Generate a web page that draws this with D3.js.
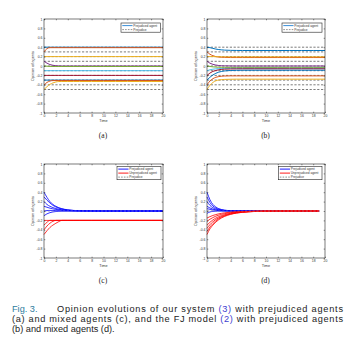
<!DOCTYPE html>
<html><head><meta charset="utf-8">
<script src="https://cdn.jsdelivr.net/npm/d3@7"></script>
<style>body{margin:0;background:#fff}svg{display:block}</style>
</head><body>
<svg id="c" width="356" height="347"></svg>
<script>
// ---------- DATA ----------
const T  = [0,0.5,1,1.5,2,2.5,3,4,5,6,8,10,12,14,16,18,20];
const Td = [0,0.5,1,1.5,2,2.5,3,4,5,6,8,10,12,14,16,18,19];
const xTicks = [0,2,4,6,8,10,12,14,16,18,20];
const yTicks = [-1,-0.8,-0.6,-0.4,-0.2,0,0.2,0.4,0.6,0.8,1];
const yTickLabels = ["-1","-0.8","-0.6","-0.4","-0.2","0","0.2","0.4","0.6","0.8","1"];
const prejudices = [0.4,0.3,0.2,0.1,0,-0.1,-0.2,-0.3,-0.4,-0.5];

// (a) our system, prejudiced agents
const a1 = [0.4,0.4,0.4,0.4,0.4,0.4,0.4,0.4,0.4,0.4,0.4,0.4,0.4,0.4,0.4,0.4,0.4];
const a2 = [0.3,0.37,0.39,0.39,0.39,0.39,0.39,0.39,0.39,0.39,0.39,0.39,0.39,0.39,0.39,0.39,0.39];
const a3 = [0.2,0.2,0.2,0.2,0.2,0.2,0.2,0.2,0.2,0.2,0.2,0.2,0.2,0.2,0.2,0.2,0.2];
const a4 = [0.1,0.06,0.03,0.015,0.005,0.002,0,0,0,0,0,0,0,0,0,0,0];
const a5 = [0,-0.005,-0.008,-0.01,-0.01,-0.01,-0.01,-0.01,-0.01,-0.01,-0.01,-0.01,-0.01,-0.01,-0.01,-0.01,-0.01];
const a6 = [-0.1,-0.1,-0.1,-0.1,-0.1,-0.1,-0.1,-0.1,-0.1,-0.1,-0.1,-0.1,-0.1,-0.1,-0.1,-0.1,-0.1];
const a7 = [-0.2,-0.2,-0.2,-0.2,-0.2,-0.2,-0.2,-0.2,-0.2,-0.2,-0.2,-0.2,-0.2,-0.2,-0.2,-0.2,-0.2];
const a8 = [-0.3,-0.3,-0.3,-0.3,-0.3,-0.3,-0.3,-0.3,-0.3,-0.3,-0.3,-0.3,-0.3,-0.3,-0.3,-0.3,-0.3];
const a9 = [-0.4,-0.35,-0.32,-0.31,-0.31,-0.31,-0.31,-0.31,-0.31,-0.31,-0.31,-0.31,-0.31,-0.31,-0.31,-0.31,-0.31];
const a10= [-0.5,-0.44,-0.39,-0.36,-0.34,-0.33,-0.33,-0.33,-0.33,-0.33,-0.33,-0.33,-0.33,-0.33,-0.33,-0.33,-0.33];

// (b) FJ model, prejudiced agents
const b1 = [0.4,0.39,0.375,0.36,0.35,0.343,0.338,0.333,0.331,0.33,0.33,0.33,0.33,0.33,0.33,0.33,0.33];
const b2 = [0.3,0.25,0.22,0.2,0.19,0.185,0.183,0.18,0.18,0.18,0.18,0.18,0.18,0.18,0.18,0.18,0.18];
const b3 = [0.2,0.2,0.2,0.198,0.197,0.196,0.195,0.195,0.195,0.195,0.195,0.195,0.195,0.195,0.195,0.195,0.195];
const b4 = [0.1,0.06,0.035,0.02,0.01,0.005,0.003,0.001,0,0,0,0,0,0,0,0,0];
const b5 = [0,-0.01,-0.018,-0.023,-0.026,-0.028,-0.029,-0.03,-0.03,-0.03,-0.03,-0.03,-0.03,-0.03,-0.03,-0.03,-0.03];
const b6 = [-0.1,-0.08,-0.068,-0.06,-0.056,-0.053,-0.052,-0.05,-0.05,-0.05,-0.05,-0.05,-0.05,-0.05,-0.05,-0.05,-0.05];
const b7 = [-0.2,-0.15,-0.115,-0.095,-0.08,-0.072,-0.067,-0.063,-0.061,-0.06,-0.06,-0.06,-0.06,-0.06,-0.06,-0.06,-0.06];
const b8 = [-0.3,-0.24,-0.19,-0.155,-0.13,-0.115,-0.105,-0.095,-0.092,-0.09,-0.09,-0.09,-0.09,-0.09,-0.09,-0.09,-0.09];
const b9 = [-0.4,-0.32,-0.27,-0.24,-0.225,-0.217,-0.213,-0.21,-0.21,-0.21,-0.21,-0.21,-0.21,-0.21,-0.21,-0.21,-0.21];
const b10= [-0.5,-0.41,-0.35,-0.315,-0.298,-0.29,-0.285,-0.282,-0.28,-0.28,-0.28,-0.28,-0.28,-0.28,-0.28,-0.28,-0.28];

// (c) our system, mixed agents
const cB1 = [0.4,0.29,0.2,0.14,0.1,0.07,0.05,0.025,0.012,0.006,0.002,0,0,0,0,0,0];
const cB2 = [0.3,0.23,0.17,0.12,0.085,0.06,0.043,0.021,0.01,0.005,0.001,0,0,0,0,0,0];
const cB3 = [0.2,0.14,0.1,0.072,0.052,0.037,0.026,0.013,0.006,0.003,0.001,0,0,0,0,0,0];
const cB4 = [0.1,0.08,0.06,0.045,0.033,0.024,0.017,0.009,0.004,0.002,0.001,0,0,0,0,0,0];
const cB5 = [0,0.01,0.012,0.011,0.009,0.007,0.005,0.003,0.001,0,0,0,0,0,0,0,0];
const cB6 = [-0.1,-0.06,-0.035,-0.02,-0.011,-0.006,-0.003,-0.001,0,0,0,0,0,0,0,0,0];
const cR1 = [-0.2,-0.2,-0.2,-0.2,-0.2,-0.2,-0.2,-0.2,-0.2,-0.2,-0.2,-0.2,-0.2,-0.2,-0.2,-0.2,-0.2];
const cR2 = [-0.3,-0.24,-0.2,-0.2,-0.2,-0.2,-0.2,-0.2,-0.2,-0.2,-0.2,-0.2,-0.2,-0.2,-0.2,-0.2,-0.2];
const cR3 = [-0.4,-0.32,-0.26,-0.22,-0.2,-0.2,-0.2,-0.2,-0.2,-0.2,-0.2,-0.2,-0.2,-0.2,-0.2,-0.2,-0.2];
const cR4 = [-0.5,-0.42,-0.35,-0.3,-0.26,-0.225,-0.2,-0.2,-0.2,-0.2,-0.2,-0.2,-0.2,-0.2,-0.2,-0.2,-0.2];
const cPrej = [0,0,0,0,0,0,0,0,0,0,0,0,0,0,0,0,0];

// (d) FJ model, mixed agents
const dB1 = [0.4,0.24,0.14,0.085,0.05,0.03,0.018,0.007,0.003,0.001,0,0,0,0,0,0,0];
const dB2 = [0.3,0.18,0.105,0.063,0.037,0.022,0.013,0.005,0.002,0.001,0,0,0,0,0,0,0];
const dB3 = [0.2,0.12,0.07,0.042,0.025,0.015,0.009,0.003,0.001,0,0,0,0,0,0,0,0];
const dB4 = [0.1,0.065,0.04,0.024,0.014,0.008,0.005,0.002,0.001,0,0,0,0,0,0,0,0];
const dB5 = [0.05,0.035,0.022,0.014,0.008,0.005,0.003,0.001,0,0,0,0,0,0,0,0,0];
const dB6 = [-0.05,-0.02,-0.008,-0.003,-0.001,0,0,0,0,0,0,0,0,0,0,0,0];
const dR1 = [-0.15,-0.12,-0.095,-0.076,-0.06,-0.048,-0.038,-0.024,-0.015,-0.01,-0.004,-0.002,-0.001,0,0,0,0];
const dR2 = [-0.22,-0.175,-0.14,-0.11,-0.088,-0.07,-0.056,-0.035,-0.022,-0.014,-0.006,-0.002,-0.001,0,0,0,0];
const dR3 = [-0.3,-0.24,-0.19,-0.15,-0.12,-0.096,-0.077,-0.048,-0.03,-0.019,-0.008,-0.003,-0.001,0,0,0,0];
const dR4 = [-0.37,-0.29,-0.23,-0.18,-0.145,-0.115,-0.092,-0.058,-0.036,-0.023,-0.009,-0.004,-0.001,0,0,0,0];
const dR5 = [-0.44,-0.34,-0.27,-0.21,-0.165,-0.13,-0.104,-0.065,-0.041,-0.026,-0.01,-0.004,-0.001,0,0,0,0];
const dR6 = [-0.5,-0.38,-0.3,-0.235,-0.185,-0.145,-0.115,-0.072,-0.045,-0.028,-0.011,-0.004,-0.002,0,0,0,0];
const dPrej = [0,0,0,0,0,0,0,0,0,0,0,0,0,0,0,0,0];

const matlab = ["#0072BD","#D95319","#EDB120","#7E2F8E","#77AC30","#4DBEEE","#A2142F"];

// ---------- DRAW ----------
const svg = d3.select("#c");
const FONT = "Liberation Sans, Arial, sans-serif";

function panel(box, series, dashed, legend, label) {
  const x = d3.scaleLinear().domain([0,20]).range([box.x0, box.x1]);
  const y = d3.scaleLinear().domain([-1,1]).range([box.y1, box.y0]);
  const g = svg.append("g");
  g.append("rect").attr("x",box.x0).attr("y",box.y0)
    .attr("width",box.x1-box.x0).attr("height",box.y1-box.y0).attr("fill","#fff");
  const line = d3.line().x(d=>x(d[0])).y(d=>y(d[1])).curve(d3.curveMonotoneX);
  // dashed (prejudice) lines beneath
  dashed.forEach(d => {
    g.append("path").attr("d", line(d.t.map((t,i)=>[t,d.v[i]])))
      .attr("fill","none").attr("stroke",d.color).attr("stroke-width",d.w)
      .attr("stroke-dasharray","2.2,1.6");
  });
  series.forEach(s => {
    g.append("path").attr("d", line(s.t.map((t,i)=>[t,s.v[i]])))
      .attr("fill","none").attr("stroke",s.color).attr("stroke-width",s.w);
  });
  (dashed.filter(d=>d.top)).forEach(d => {
    g.append("path").attr("d", line(d.t.map((t,i)=>[t,d.v[i]])))
      .attr("fill","none").attr("stroke",d.color).attr("stroke-width",d.w)
      .attr("stroke-dasharray","2.2,1.6");
  });
  // axes
  const fmt = v => yTickLabels[yTicks.indexOf(v)];
  const axL = g.append("g").attr("transform",`translate(${box.x0},0)`)
    .call(d3.axisLeft(y).tickValues(yTicks).tickFormat(fmt).tickSize(-1.3).tickPadding(1.6));
  const axR = g.append("g").attr("transform",`translate(${box.x1},0)`)
    .call(d3.axisRight(y).tickValues(yTicks).tickFormat("").tickSize(-1.3));
  const axB = g.append("g").attr("transform",`translate(0,${box.y1})`)
    .call(d3.axisBottom(x).tickValues(xTicks).tickFormat(d3.format("d")).tickSize(-1.3).tickPadding(1.8));
  const axT = g.append("g").attr("transform",`translate(0,${box.y0})`)
    .call(d3.axisTop(x).tickValues(xTicks).tickFormat("").tickSize(-1.3));
  [axL,axR,axB,axT].forEach(a => {
    a.select(".domain").remove();
    a.selectAll("line").attr("stroke","#222").attr("stroke-width",0.5);
    a.selectAll("text").attr("font-family",FONT).attr("font-size","3.4px").attr("fill","#333");
  });
  g.append("rect").attr("x",box.x0).attr("y",box.y0)
    .attr("width",box.x1-box.x0).attr("height",box.y1-box.y0)
    .attr("fill","none").attr("stroke","#222").attr("stroke-width",0.6);
  // axis titles
  g.append("text").attr("x",(box.x0+box.x1)/2).attr("y",box.y1+9.3)
    .attr("text-anchor","middle").attr("font-family",FONT).attr("font-size","3.8px").attr("fill","#333").text("Time");
  g.append("text").attr("transform",`translate(${box.x0-10},${(box.y0+box.y1)/2}) rotate(-90)`)
    .attr("text-anchor","middle").attr("font-family",FONT).attr("font-size","3.8px").attr("fill","#333").text("Opinion of agents");
  // legend
  const L = legend;
  g.append("rect").attr("x",L.x).attr("y",L.y).attr("width",L.w).attr("height",L.items.length*4+1.2)
    .attr("fill","#fff").attr("stroke","#222").attr("stroke-width",0.6);
  L.items.forEach((it,i) => {
    const yy = L.y + 2.6 + i*4;
    g.append("line").attr("x1",L.x+1.3).attr("x2",L.x+11.5).attr("y1",yy).attr("y2",yy)
      .attr("stroke",it.color).attr("stroke-width",it.w)
      .attr("stroke-dasharray", it.dash ? "1.6,1.2" : null);
    g.append("text").attr("x",L.x+12.3).attr("y",yy+1.1)
      .attr("font-family",FONT).attr("font-size","3.2px").attr("fill","#333").text(it.text);
  });
  // panel label
  svg.append("text").attr("x",(box.x0+box.x1)/2 - 0.5).attr("y",label.y)
    .attr("text-anchor","middle").attr("font-family","Liberation Serif, Times New Roman, serif")
    .attr("font-size","7.5px").attr("fill","#222").text(label.text);
}

const aData = [a1,a2,a3,a4,a5,a6,a7,a8,a9,a10];
const bData = [b1,b2,b3,b4,b5,b6,b7,b8,b9,b10];
const prejLines = prejudices.map(p => ({t:[0,20], v:[p,p], color:"#444", w:0.7}));

panel({x0:44,x1:163,y0:19,y1:113},
  aData.map((v,i)=>({t:T, v, color:matlab[i%7], w:1})),
  prejLines,
  {x:121,y:23,w:39.5,items:[{text:"Prejudiced agent",color:"#3A8FD9",w:1},{text:"Prejudice",color:"#444",w:0.6,dash:true}]},
  {text:"(a)", y:137.5});

panel({x0:207,x1:325,y0:19,y1:113},
  bData.map((v,i)=>({t:T, v, color:matlab[i%7], w:1})),
  prejLines,
  {x:282,y:23,w:40,items:[{text:"Prejudiced agent",color:"#3A8FD9",w:1},{text:"Prejudice",color:"#444",w:0.6,dash:true}]},
  {text:"(b)", y:137.5});

panel({x0:44,x1:163,y0:164,y1:258},
  [cB1,cB2,cB3,cB4,cB5,cB6].map(v=>({t:T,v,color:"#0000FF",w:0.8}))
    .concat([cR1,cR2,cR3,cR4].map(v=>({t:T,v,color:"#FF0000",w:0.8}))),
  [{t:T, v:cPrej, color:"#9999DD", w:0.6, top:true}],
  {x:117,y:166.5,w:44,items:[{text:"Prejudiced agent",color:"#0000FF",w:0.9},{text:"Unprejudiced agent",color:"#FF0000",w:0.9},{text:"Prejudice",color:"#444",w:0.6,dash:true}]},
  {text:"(c)", y:283});

panel({x0:207,x1:325,y0:164,y1:258},
  [dB1,dB2,dB3,dB4,dB5,dB6].map(v=>({t:Td,v,color:"#0000FF",w:0.8}))
    .concat([dR1,dR2,dR3,dR4,dR5,dR6].map(v=>({t:Td,v,color:"#FF0000",w:0.8}))),
  [{t:Td, v:dPrej, color:"#9999AA", w:0.6, top:true}],
  {x:278.5,y:166.5,w:43.5,items:[{text:"Prejudiced agent",color:"#0000FF",w:0.9},{text:"Unprejudiced agent",color:"#FF0000",w:0.9},{text:"Prejudice",color:"#444",w:0.6,dash:true}]},
  {text:"(d)", y:283});

// ---------- CAPTION ----------
const cap = svg.append("g").attr("font-family",FONT).attr("font-size","9.2px").attr("fill","#222");
const t1 = cap.append("text").attr("x",12).attr("y",312);
t1.append("tspan").attr("fill","#2E7C9E").text("Fig. 3.");
cap.append("text").attr("x",57).attr("y",312).attr("textLength",286).attr("lengthAdjust","spacing")
  .html('Opinion evolutions of our system <tspan fill="#4040D0">(3)</tspan> with prejudiced agents');
cap.append("text").attr("x",12).attr("y",322).attr("textLength",331).attr("lengthAdjust","spacing")
  .html('(a) and mixed agents (c), and the FJ model <tspan fill="#4040D0">(2)</tspan> with prejudiced agents');
cap.append("text").attr("x",12).attr("y",332).text("(b) and mixed agents (d).");
</script>
</body></html>
